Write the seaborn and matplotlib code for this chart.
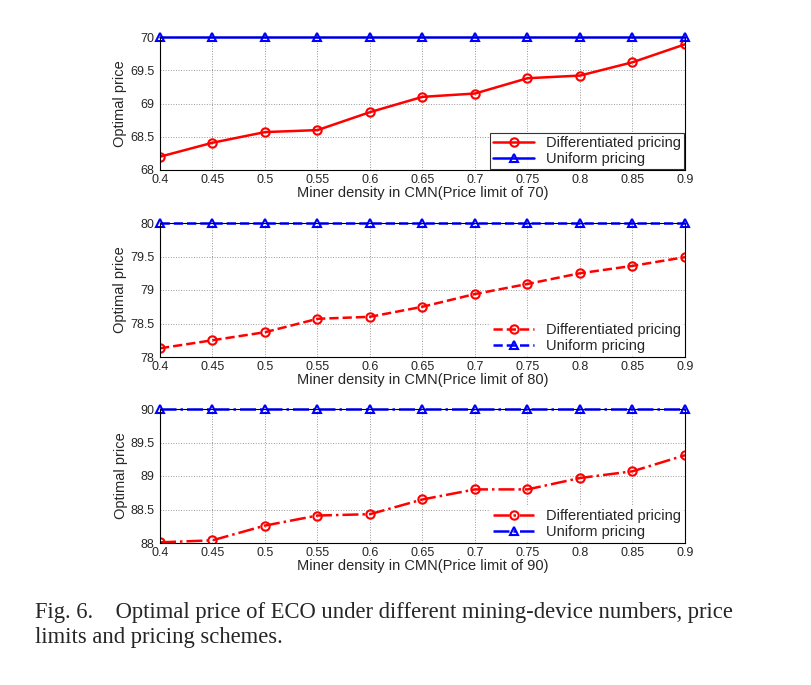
import matplotlib
matplotlib.use('Agg')
import matplotlib.pyplot as plt
import seaborn as sns
import pandas as pd

density = [0.4, 0.45, 0.5, 0.55, 0.6, 0.65, 0.7, 0.75, 0.8, 0.85, 0.9]
diff_70 = [68.2, 68.41, 68.57, 68.6, 68.87, 69.1, 69.15, 69.38, 69.42, 69.62, 69.89]
diff_80 = [78.13, 78.25, 78.37, 78.57, 78.6, 78.75, 78.94, 79.09, 79.25, 79.36, 79.49]
diff_90 = [88.01, 88.04, 88.26, 88.41, 88.43, 88.65, 88.8, 88.8, 88.97, 89.07, 89.31]
limits = [70, 80, 90]
styles = ['-', '--', '-.']
xticklabels = ['0.4', '0.45', '0.5', '0.55', '0.6', '0.65', '0.7', '0.75', '0.8', '0.85', '0.9']

sns.set_style('white')
plt.rcParams['font.family'] = ['Liberation Sans', 'DejaVu Sans']

fig = plt.figure(figsize=(8.12, 6.85), dpi=100)
W, H = 812, 685
boxes = [(37, 170), (223, 357), (409, 543)]
ytick_sets = [[68, 68.5, 69, 69.5, 70], [78, 78.5, 79, 79.5, 80], [88, 88.5, 89, 89.5, 90]]
ylabs = [['68', '68.5', '69', '69.5', '70'], ['78', '78.5', '79', '79.5', '80'], ['88', '88.5', '89', '89.5', '90']]

for i, (diff, lim, ls) in enumerate(zip([diff_70, diff_80, diff_90], limits, styles)):
    top, bot = boxes[i]
    ax = fig.add_axes([160 / W, 1 - bot / H, 525 / W, (bot - top) / H])
    df = pd.DataFrame({'x': density, 'diff': diff, 'uni': [lim] * len(density)})
    sns.lineplot(data=df, x='x', y='diff', ax=ax, color='red', linestyle=ls, lw=1.8,
                 marker='o', markersize=6, markerfacecolor='none', markeredgecolor='red',
                 markeredgewidth=1.5, label='Differentiated pricing')
    sns.lineplot(data=df, x='x', y='uni', ax=ax, color='blue', linestyle=ls, lw=1.8,
                 marker='^', markersize=6, markerfacecolor='none', markeredgecolor='blue',
                 markeredgewidth=1.5, label='Uniform pricing', clip_on=False)
    ax.set_xlim(0.4, 0.9)
    ax.set_ylim(lim - 2, lim)
    ax.set_xticks(density)
    ax.set_xticklabels(xticklabels, fontsize=9)
    ax.set_yticks(ytick_sets[i])
    ax.set_yticklabels(ylabs[i], fontsize=9)
    ax.tick_params(axis='x', direction='in', length=3, pad=3)
    ax.tick_params(axis='y', direction='in', length=3, pad=4)
    ax.grid(True, linestyle=':', color='#999999', lw=0.7)
    for s in ax.spines.values():
        s.set_linewidth(0.8)
        s.set_color('black')
    ax.set_xlabel(f'Miner density in CMN(Price limit of {lim})', fontsize=10.5, labelpad=0)
    ax.set_ylabel('Optimal price', fontsize=10.5, labelpad=2)
    leg = ax.legend(loc='lower right', fontsize=10.5, frameon=True, fancybox=False,
                    borderpad=0.2, labelspacing=0.1, handlelength=2.8, borderaxespad=0.1)
    leg.get_frame().set_edgecolor('black')
    leg.get_frame().set_linewidth(0.8)
    if i > 0:
        leg.get_frame().set_linewidth(0)
        leg.get_frame().set_facecolor('white')

fig.text(35 / W, 1 - 625 / H, 'Fig. 6.    Optimal price of ECO under different mining-device numbers, price\nlimits and pricing schemes.',
         fontsize=16.3, family=['Liberation Serif', 'DejaVu Serif'], va='center', linespacing=1.25)

fig.savefig('out.png', dpi=100)
